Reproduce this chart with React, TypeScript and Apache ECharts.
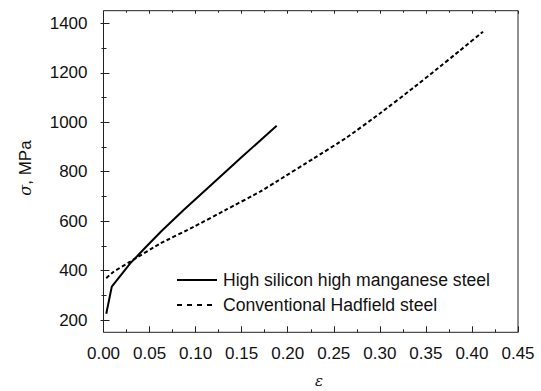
import React, { useEffect, useRef } from "react";
import * as echarts from "echarts";

const hiSiStrain = [0.003, 0.009, 0.029, 0.045, 0.063, 0.087, 0.118, 0.148, 0.188];
const hiSiStress = [225, 335, 429, 491, 560, 645, 750, 852, 986];

const hadStrain = [0.003, 0.011, 0.029, 0.062, 0.098, 0.134, 0.17, 0.19, 0.228, 0.264, 0.3, 0.336, 0.361, 0.387, 0.412];
const hadStress = [369, 395, 436, 510, 577, 648, 719, 765, 853, 938, 1035, 1138, 1212, 1290, 1366];

const seriesNames = ["High silicon high manganese steel", "Conventional Hadfield steel"];
const yTickLabels = [200, 400, 600, 800, 1000, 1200, 1400];
const xTickLabels = ["0.00", "0.05", "0.10", "0.15", "0.20", "0.25", "0.30", "0.35", "0.40", "0.45"];

const W = 541;
const H = 391;
const FONT = "'Liberation Sans', Arial, sans-serif";

export default function App() {
  const ref = useRef<HTMLDivElement>(null);
  useEffect(() => {
    if (!ref.current) return;
    const chart = echarts.init(ref.current, null, { renderer: "svg", width: W, height: H });
    const L = 103.5, R = 518, T = 10.7, B = 332.3;
    const gTop = 23.3, gBot = 320;
    const xMin = 0, xMax = 0.45;
    const yMin = yTickLabels[0], yMax = yTickLabels[yTickLabels.length - 1];
    const zip = (a: number[], b: number[]) => a.map((v, i) => [v, b[i]]);
    const tickStyle = { color: "#222", width: 1 };
    const option: any = {
      animation: false,
      backgroundColor: "#fff",
      grid: { left: L, right: W - R, top: gTop, bottom: H - gBot, containLabel: false },
      xAxis: [
        {
          type: "value", position: "bottom", min: xMin, max: xMax, interval: 0.05,
          offset: B - gBot,
          axisLine: { show: false },
          axisTick: { show: true, inside: true, length: 6, lineStyle: tickStyle },
          minorTick: { show: true, splitNumber: 2, length: 3, lineStyle: tickStyle },
          splitLine: { show: false },
          axisLabel: {
            show: true, margin: 13, color: "#111", fontSize: 17, fontFamily: FONT,
            formatter: (v: number) => xTickLabels[Math.round(v / 0.05)] ?? "",
          },
        },
        {
          type: "value", position: "top", min: xMin, max: xMax, interval: 0.05,
          offset: gTop - T,
          axisLine: { show: false },
          axisTick: { show: true, inside: true, length: 3, lineStyle: tickStyle },
          minorTick: { show: true, splitNumber: 2, length: 2, lineStyle: tickStyle },
          splitLine: { show: false },
          axisLabel: { show: false },
        },
      ],
      yAxis: [
        {
          type: "value", position: "left", min: yMin, max: yMax, interval: 200,
          axisLine: { show: false },
          axisTick: { show: true, inside: true, length: 6, lineStyle: tickStyle },
          minorTick: { show: true, splitNumber: 2, length: 3, lineStyle: tickStyle },
          splitLine: { show: false },
          axisLabel: {
            show: true, margin: 16, color: "#111", fontSize: 17, fontFamily: FONT,
            formatter: (v: number) => String(Math.round(v)),
          },
        },
        {
          type: "value", position: "right", min: yMin, max: yMax, interval: 200,
          axisLine: { show: false },
          axisTick: { show: true, inside: true, length: 3, lineStyle: tickStyle },
          minorTick: { show: true, splitNumber: 2, length: 2, lineStyle: tickStyle },
          splitLine: { show: false },
          axisLabel: { show: false },
        },
      ],
      series: [
        {
          name: seriesNames[0], type: "line", data: zip(hiSiStrain, hiSiStress),
          symbol: "none", smooth: false, clip: false,
          lineStyle: { color: "#000", width: 2, type: "solid" },
          itemStyle: { color: "#000" },
        },
        {
          name: seriesNames[1], type: "line", data: zip(hadStrain, hadStress),
          symbol: "none", smooth: 0.15, clip: false,
          lineStyle: { color: "#000", width: 2, type: [4, 2.5] },
          itemStyle: { color: "#000" },
        },
      ],
      graphic: [
        {
          type: "rect", silent: true,
          shape: { x: L, y: T, width: R - L, height: B - T },
          style: { fill: "none", stroke: "#222", lineWidth: 1 },
          z: 10,
        },
        {
          type: "line", silent: true,
          shape: { x1: 177, y1: 280, x2: 217, y2: 280 },
          style: { stroke: "#000", lineWidth: 1.8 },
        },
        {
          type: "text", x: 223, y: 280,
          style: { text: seriesNames[0], verticalAlign: "middle", fontSize: 17.6, fontFamily: FONT, fill: "#111" },
        },
        {
          type: "line", silent: true,
          shape: { x1: 177, y1: 305, x2: 217, y2: 305 },
          style: { stroke: "#000", lineWidth: 1.8, lineDash: [5, 5] },
        },
        {
          type: "text", x: 223, y: 305,
          style: { text: seriesNames[1], verticalAlign: "middle", fontSize: 17.6, fontFamily: FONT, fill: "#111" },
        },
        {
          type: "text", x: 25, y: 168, rotation: Math.PI / 2,
          style: {
            text: "{i|σ}, MPa", align: "center", verticalAlign: "middle",
            fontSize: 17, fontFamily: FONT, fill: "#111",
            rich: { i: { fontStyle: "italic", fontFamily: "'DejaVu Serif', serif", fontSize: 16, fill: "#111" } },
          },
        },
        {
          type: "text", x: 319, y: 381,
          style: {
            text: "ε", align: "center", verticalAlign: "middle",
            fontSize: 15, fontStyle: "italic", fontFamily: "'DejaVu Serif', serif", fill: "#111",
          },
        },
      ],
    };
    chart.setOption(option);
    return () => chart.dispose();
  }, []);
  return <div ref={ref} style={{ position: "fixed", left: 0, top: 0, width: W, height: H, background: "#fff" }} />;
}
